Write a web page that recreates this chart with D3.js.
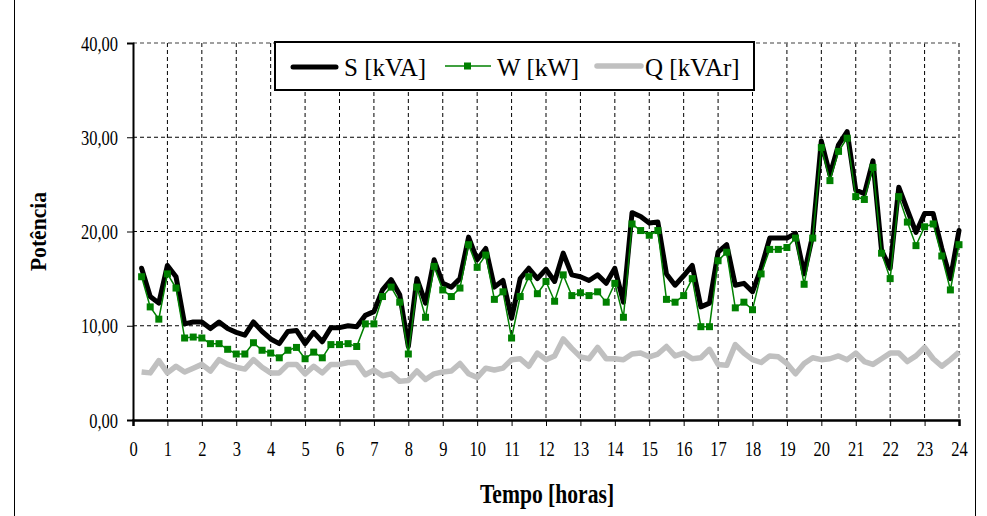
<!DOCTYPE html>
<html><head><meta charset="utf-8">
<script src="https://cdn.jsdelivr.net/npm/d3@7"></script>
<style>body{margin:0;background:#fff}svg{display:block}</style>
</head><body><svg id="c" width="987" height="516"></svg>
<script>
const hours = d3.range(1, 97).map(i => i / 4);
const sVals = [16.1,13.1,12.4,16.4,15.2,10.2,10.4,10.4,9.7,10.4,9.7,9.3,9.0,10.4,9.4,8.6,8.1,9.4,9.5,8.1,9.3,8.3,9.8,9.8,10.0,9.9,11.1,11.5,13.8,14.9,13.3,7.8,
15.0,12.4,17.0,14.5,14.1,15.0,19.4,17.0,18.2,14.1,14.8,10.8,15.0,16.1,15.0,16.0,14.7,17.7,15.4,15.2,14.8,15.4,14.5,16.1,12.5,22.0,21.6,20.9,21.0,15.5,14.3,15.3,
16.4,12.0,12.4,17.8,18.6,14.3,14.5,13.6,16.1,19.3,19.3,19.3,19.8,15.5,19.6,29.6,26.0,29.2,30.6,24.4,24.0,27.5,18.0,16.1,24.7,22.3,19.9,21.9,21.9,18.2,15.0,20.1];
const wVals = [15.2,12.0,10.7,15.5,14.0,8.7,8.8,8.7,8.1,8.1,7.5,7.0,7.0,8.2,7.4,7.1,6.6,7.4,7.7,6.5,7.2,6.6,8.0,8.0,8.1,7.8,10.2,10.2,13.1,14.1,12.5,7.0,
14.1,10.9,16.3,13.8,13.1,14.0,18.6,16.2,17.5,12.8,13.6,8.7,13.1,15.2,13.4,14.7,12.6,15.4,13.2,13.5,13.2,13.6,12.5,14.5,10.9,20.8,20.1,19.6,20.1,12.8,12.5,13.2,
15.0,9.9,9.9,16.9,17.8,11.9,12.5,11.7,15.5,18.1,18.1,18.3,19.3,14.4,19.3,28.9,25.4,28.5,29.9,23.7,23.4,26.8,17.7,15.0,23.7,21.0,18.5,20.5,20.8,17.4,13.8,18.6];
const qVals = [5.1,5.0,6.3,5.0,5.7,5.1,5.5,5.9,5.2,6.4,5.9,5.6,5.4,6.4,5.6,5.0,5.0,5.9,5.9,4.9,5.7,5.0,5.9,5.9,6.1,6.1,4.8,5.3,4.7,4.9,4.1,4.2,
5.2,4.3,4.9,5.1,5.2,6.0,4.9,4.5,5.5,5.3,5.5,6.4,6.5,5.7,7.1,6.4,6.8,8.6,7.6,6.7,6.5,7.7,6.5,6.5,6.4,7.0,7.1,6.7,7.0,7.8,6.8,7.1,
6.5,6.6,7.5,5.9,5.8,8.0,7.1,6.4,6.1,6.8,6.7,6.0,4.9,6.0,6.6,6.4,6.5,6.8,6.4,7.1,6.2,5.9,6.5,7.1,7.1,6.2,6.8,7.7,6.5,5.7,6.4,7.2];
const xTicks = d3.range(0, 25);
const yTicks = [0, 10, 20, 30, 40];
const seriesNames = ["S [kVA]", "W [kW]", "Q [kVAr]"];

const FONT = "'Liberation Serif', 'Times New Roman', 'DejaVu Serif', serif";
const svg = d3.select("#c");
const L = 133, R = 959, T = 43, B = 420;
const x = d3.scaleLinear().domain([0, 24]).range([L, R]);
const y = d3.scaleLinear().domain([0, 40]).range([B, T]);
const fmt = v => d3.format(".2f")(v).replace(".", ",");

// outer frame
svg.append("rect").attr("x", 14.5).attr("y", -5).attr("width", 961).attr("height", 540)
  .attr("fill", "none").attr("stroke", "#000").attr("stroke-width", 1);

// grid
const g = svg.append("g");
g.selectAll(".hg").data(yTicks.filter(v => v > 0 && v < 40)).join("line")
  .attr("x1", L).attr("x2", R).attr("y1", d => y(d)).attr("y2", d => y(d))
  .attr("stroke", "#000").attr("stroke-width", 1).attr("stroke-dasharray", "4,3");
g.selectAll(".vg").data(xTicks.filter(v => v > 0 && v < 24)).join("line")
  .attr("y1", T).attr("y2", B).attr("x1", d => x(d)).attr("x2", d => x(d))
  .attr("stroke", "#000").attr("stroke-width", 1).attr("stroke-dasharray", "4,3");
g.append("line").attr("x1", L).attr("x2", R).attr("y1", y(40)).attr("y2", y(40))
  .attr("stroke", "#808080").attr("stroke-width", 1.5).attr("stroke-dasharray", "4,3");
g.append("line").attr("x1", R).attr("x2", R).attr("y1", T).attr("y2", B)
  .attr("stroke", "#808080").attr("stroke-width", 2).attr("stroke-dasharray", "4,3");

// axes
const SX = 0.75;
const yAxis = d3.axisLeft(y).tickValues(yTicks).tickFormat(fmt).tickSize(6).tickPadding(9);
const ya = svg.append("g").attr("transform", `translate(${L},0)`).call(yAxis)
  .attr("font-family", FONT);
ya.select(".domain").attr("stroke-width", 2);
ya.selectAll("text").attr("font-size", 22).attr("fill", "#000").attr("font-family", FONT)
  .attr("transform", `scale(${SX},1)`).attr("x", -15 / SX);
const xAxis = d3.axisBottom(x).tickValues(xTicks).tickFormat(d3.format("d")).tickSize(6).tickPadding(14);
const xa = svg.append("g").attr("transform", `translate(0,${B})`).call(xAxis)
  .attr("font-family", FONT);
xa.select(".domain").attr("stroke-width", 2.5);
xa.selectAll("text").attr("font-size", 22).attr("fill", "#000").attr("font-family", FONT)
  .attr("transform", `scale(${SX},1)`);

// series
const mk = vals => hours.map((h, i) => [h, vals[i]]);
const line = d3.line().x(d => x(d[0])).y(d => y(d[1]));
svg.append("path").datum(mk(qVals)).attr("d", line).attr("fill", "none")
  .attr("stroke", "#c0c0c0").attr("stroke-width", 5.5).attr("stroke-linejoin", "round");
svg.append("path").datum(mk(sVals)).attr("d", line).attr("fill", "none")
  .attr("stroke", "#000").attr("stroke-width", 5).attr("stroke-linejoin", "round").attr("stroke-linecap", "round");
svg.append("path").datum(mk(wVals)).attr("d", line).attr("fill", "none")
  .attr("stroke", "#008000").attr("stroke-width", 1.5);
svg.append("g").selectAll("rect").data(mk(wVals)).join("rect")
  .attr("x", d => x(d[0]) - 3.5).attr("y", d => y(d[1]) - 3.5).attr("width", 7).attr("height", 7)
  .attr("fill", "#008000");

// legend
const lg = svg.append("g").attr("font-family", FONT);
lg.append("rect").attr("x", 275).attr("y", 42).attr("width", 479).attr("height", 48)
  .attr("fill", "#fff").attr("stroke", "#000").attr("stroke-width", 2);
lg.append("line").attr("x1", 293).attr("x2", 336).attr("y1", 67).attr("y2", 67)
  .attr("stroke", "#000").attr("stroke-width", 5).attr("stroke-linecap", "round");
lg.append("text").attr("x", 344).attr("y", 76).attr("font-size", 25).text(seriesNames[0]);
lg.append("line").attr("x1", 445).attr("x2", 491).attr("y1", 66).attr("y2", 66)
  .attr("stroke", "#008000").attr("stroke-width", 1.5);
lg.append("rect").attr("x", 464).attr("y", 62.5).attr("width", 7).attr("height", 7).attr("fill", "#008000");
lg.append("text").attr("x", 497).attr("y", 76).attr("font-size", 25).text(seriesNames[1]);
lg.append("line").attr("x1", 597).attr("x2", 641).attr("y1", 66).attr("y2", 66)
  .attr("stroke", "#c0c0c0").attr("stroke-width", 5.5).attr("stroke-linecap", "round");
lg.append("text").attr("x", 645).attr("y", 76).attr("font-size", 25).text(seriesNames[2]);

// axis titles
svg.append("text").attr("transform", `translate(46,${(T + B) / 2}) rotate(-90) scale(0.9,1)`)
  .attr("font-family", FONT)
  .attr("text-anchor", "middle").attr("font-size", 24).attr("font-weight", "bold").text("Potência");
svg.append("text").attr("transform", `translate(547,503) scale(0.8,1)`)
  .attr("font-family", FONT).attr("text-anchor", "middle")
  .attr("font-size", 27).attr("font-weight", "bold").text("Tempo [horas]");
</script></body></html>
